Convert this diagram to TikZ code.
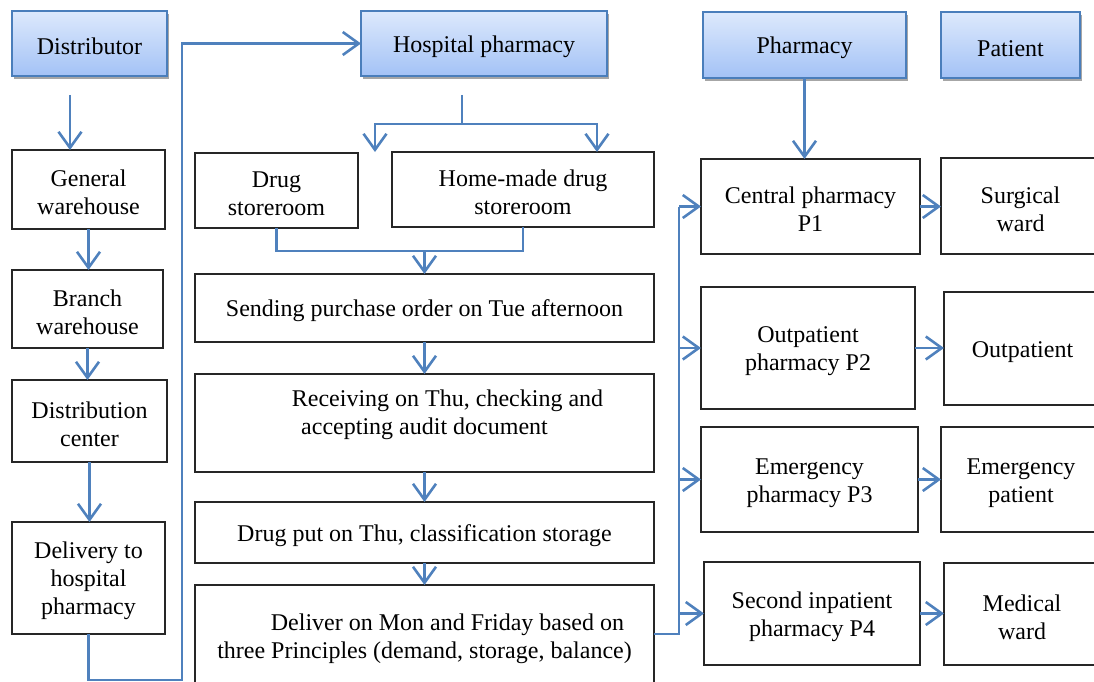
\documentclass[tikz,border=0pt]{standalone}
\usepackage{fontspec}
\setmainfont{Liberation Serif}
\usetikzlibrary{arrows.meta,shadows}
\definecolor{arrblue}{HTML}{4F81BD}
\definecolor{hdrtop}{HTML}{DDE9FC}
\definecolor{hdrbot}{HTML}{A3C2F6}
\definecolor{hdrline}{HTML}{4A7EBB}
\newcommand\fl{\rule{0pt}{22.5pt}}
\begin{document}
\begin{tikzpicture}[x=1pt,y=-1pt,
  every node/.style={font=\fontsize{24}{28}\selectfont, align=center, inner sep=0pt, outer sep=0pt,
    execute at begin node={\fl}},
  hdr/.style={draw=hdrline, line width=2pt, top color=hdrtop, bottom color=hdrbot,
    drop shadow={shadow xshift=2pt, shadow yshift=-3.5pt, opacity=0.35, fill=black}},
  box/.style={draw=black!85, line width=1.2pt, fill=white},
  conn/.style={draw=arrblue, line width=2.6pt},
  arr/.style={conn, -{Straight Barb[length=16pt,width=23pt]}}]
\useasboundingbox (0,0) rectangle (1094,682);
\clip (0,0) rectangle (1094,682);
% headers
\node[hdr, minimum width=155pt, minimum height=65pt] (dist) at (89.5,43.5) {Distributor};
\path (dist.south) ++(0,1) coordinate (distb);
\node[hdr, minimum width=246pt, minimum height=65pt] (hosp) at (484,43.5) {Hospital pharmacy};
\node[hdr, minimum width=203pt, minimum height=66pt] (pharm) at (804.5,45) {Pharmacy};
\node[hdr, minimum width=139pt, minimum height=66pt] (pat) at (1010.5,45) {Patient};
% left column
\node[box, minimum width=153pt, minimum height=79pt] (gw) at (88.5,189.5) {\fl General\\warehouse};
\node[box, minimum width=151pt, minimum height=78pt] (bw) at (87.5,309) {\fl Branch\\warehouse};
\node[box, minimum width=155pt, minimum height=82pt] (dc) at (89.5,421) {\fl Distribution\\center};
\node[box, minimum width=153pt, minimum height=112pt] (dh) at (88.5,578) {\fl Delivery to\\hospital\\pharmacy};
% middle column
\node[box, minimum width=163pt, minimum height=75pt] (ds) at (276.5,190.5) {\fl Drug\\storeroom};
\node[box, minimum width=262pt, minimum height=75pt] (hm) at (523,189.5) {\fl Home-made drug\\storeroom};
\node[box, minimum width=459pt, minimum height=68pt] (spo) at (424.5,308) {Sending purchase order on Tue afternoon};
\node[box, minimum width=459pt, minimum height=98pt] (rcv) at (424.5,423) {};
\node (rcvt) at (424.5,412) {\fl\hspace*{46pt}Receiving on Thu, checking and\\accepting audit document};
\node[box, minimum width=459pt, minimum height=61pt] (dput) at (424.5,532.5) {Drug put on Thu, classification storage};
\node[box, minimum width=459pt, minimum height=101pt] (dlv) at (424.5,635.5) {\fl\hspace*{46pt}Deliver on Mon and Friday based on\\three Principles (demand, storage, balance)};
% pharmacy column
\node[box, minimum width=219pt, minimum height=95pt] (p1) at (810.5,206.5) {\fl Central pharmacy\\P1};
\node[box, minimum width=214pt, minimum height=122pt] (p2) at (808,348) {\fl Outpatient\\pharmacy P2};
\node[box, minimum width=217pt, minimum height=105pt] (p3) at (809.5,479.5) {\fl Emergency\\pharmacy P3};
\node[box, minimum width=216pt, minimum height=103pt] (p4) at (812,613.5) {\fl Second inpatient\\pharmacy P4};
% patient column
\node[box, minimum width=159pt, minimum height=96pt] (sw) at (1020.5,206) {\fl Surgical\\ward};
\node[box, minimum width=157pt, minimum height=113pt] (op) at (1022.5,348.5) {Outpatient};
\node[box, minimum width=160pt, minimum height=105pt] (ep) at (1021,479.5) {\fl Emergency\\patient};
\node[box, minimum width=156pt, minimum height=102pt] (mw) at (1022,614) {\fl Medical\\ward};
% free coordinates
\coordinate (d0) at (70,95);
\coordinate (c1) at (182,680);
\coordinate (h0) at (462,95);
\coordinate (h1) at (462,124);
\coordinate (a1) at (375,152);
\coordinate (a2) at (597,152);
\coordinate (m1) at (424.5,251);
\coordinate (bus) at (679,634);
% left column connectors
\draw[arr] (d0) -- (d0 |- gw.north);
\draw[arr] (gw.south) -- (gw.south |- bw.north);
\draw[arr] (bw.south) -- (bw.south |- dc.north);
\draw[arr] (dc.south) -- (dc.south |- dh.north);
\draw[arr] (dh.south) |- (c1) |- (hosp.west);
% hospital pharmacy split
\draw[conn] (h0) -- (h1);
\draw[arr] (h1) -| (a1);
\draw[arr] (h1) -| (a2);
% merge
\draw[conn] (ds.south) |- (m1) -| (hm.south);
\draw[arr] (m1) -- (spo.north);
\draw[arr] (spo.south) -- (rcv.north);
\draw[arr] (rcv.south) -- (dput.north);
\draw[arr] (dput.south) -- (dlv.north);
% bus to pharmacies
\draw[conn] (dlv.east |- bus) -- (bus) -- (bus |- p1.west);
\draw[arr] (bus |- p1.west) -- (p1.west);
\draw[arr] (bus |- p2.west) -- (p2.west);
\draw[arr] (bus |- p3.west) -- (p3.west);
\draw[arr] (bus |- p4.west) -- (p4.west);
\draw[arr] (pharm.south) -- (pharm.south |- p1.north);
% pharmacies to patients
\draw[arr] (p1.east) -- (p1.east -| sw.west);
\draw[arr] (p2.east) -- (p2.east -| op.west);
\draw[arr] (p3.east) -- (p3.east -| ep.west);
\draw[arr] (p4.east) -- (p4.east -| mw.west);
\end{tikzpicture}
\end{document}
